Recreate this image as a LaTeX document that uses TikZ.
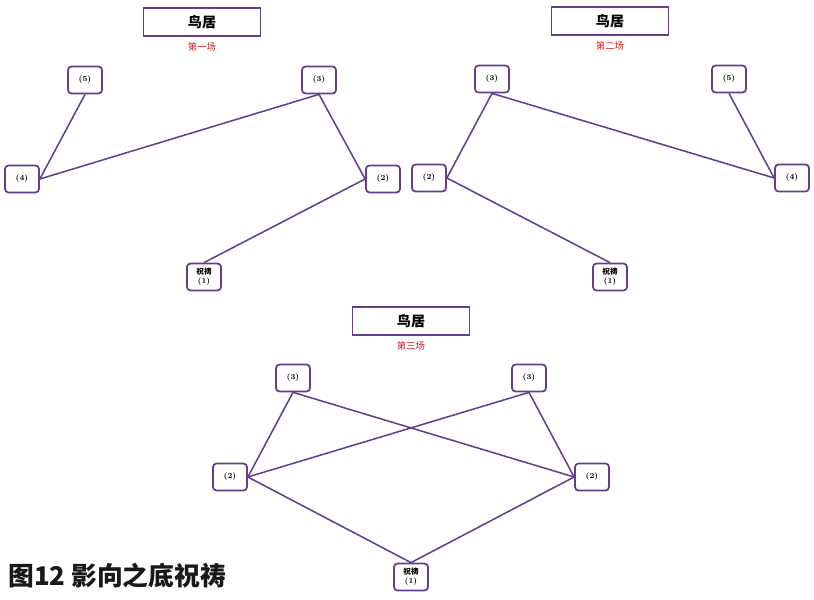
\documentclass[tikz,border=0pt]{standalone}
\usepackage{fontspec}
\newfontfamily\cjk{Noto Sans CJK SC}
\definecolor{toriipurple}{RGB}{98, 62, 142}
\definecolor{scenered}{RGB}{210, 25, 25}
\definecolor{captionink}{RGB}{25, 25, 25}
\usetikzlibrary{positioning}

\tikzset{
  rolebox/.style={draw=toriipurple, line width=1.5pt, rounded corners=3pt, fill=white, minimum width=1.02cm, minimum height=0.81cm, inner sep=1pt, align=center, font=\bfseries\fontsize{6.5}{7.5}\selectfont},
  titlebox/.style={draw=toriipurple, line width=1.4pt, fill=white, minimum width=3.52cm, minimum height=0.84cm, font=\cjk\bfseries\fontsize{12}{14}\selectfont},
  scenelabel/.style={text=scenered, inner sep=1pt, font=\cjk\fontsize{8}{10}\selectfont},
  link/.style={draw=toriipurple, line width=1.3pt},
}

\begin{document}
\begin{tikzpicture}[x=0.03cm, y=-0.03cm]
  \useasboundingbox (0,0) rectangle (814,600);

  % Scene one
  \node[titlebox] (t1) at (202,22) {鸟居};
  \node[scenelabel, below=0.12cm of t1] (s1) {第一场};
  \node[rolebox] (a5) at (85,80) {(5)};
  \node[rolebox] (a3) at (319,80) {(3)};
  \node[rolebox] (a4) at (22,179) {(4)};
  \node[rolebox] (a2) at (383,179) {(2)};
  \node[rolebox] (a1) at (204,277) {{\cjk 祝祷}\\(1)};
  \draw[link] (a5.south) -- (a4.east);
  \draw[link] (a3.south) -- (a4.east);
  \draw[link] (a3.south) -- (a2.west);
  \draw[link] (a2.west) -- (a1.north);

  % Scene two
  \node[titlebox] (t2) at (610,21) {鸟居};
  \node[scenelabel, below=0.12cm of t2] (s2) {第二场};
  \node[rolebox] (b3) at (492,79) {(3)};
  \node[rolebox] (b5) at (729,79) {(5)};
  \node[rolebox] (b2) at (429,178) {(2)};
  \node[rolebox] (b4) at (792,178) {(4)};
  \node[rolebox] (b1) at (610,277) {{\cjk 祝祷}\\(1)};
  \draw[link] (b3.south) -- (b2.east);
  \draw[link] (b3.south) -- (b4.west);
  \draw[link] (b5.south) -- (b4.west);
  \draw[link] (b2.east) -- (b1.north);

  % Scene three
  \node[titlebox] (t3) at (411,321) {鸟居};
  \node[scenelabel, below=0.12cm of t3] (s3) {第三场};
  \node[rolebox] (c3l) at (293,378) {(3)};
  \node[rolebox] (c3r) at (529,378) {(3)};
  \node[rolebox] (c2l) at (230,477) {(2)};
  \node[rolebox] (c2r) at (592,477) {(2)};
  \node[rolebox] (c1) at (411,577) {{\cjk 祝祷}\\(1)};
  \draw[link] (c3l.south) -- (c2l.east);
  \draw[link] (c3l.south) -- (c2r.west);
  \draw[link] (c3r.south) -- (c2l.east);
  \draw[link] (c3r.south) -- (c2r.west);
  \draw[link] (c2l.east) -- (c1.north);
  \draw[link] (c2r.west) -- (c1.north);

  % Caption
  \node[anchor=west, inner sep=0pt, text=captionink, font=\cjk\bfseries\fontsize{22}{24}\selectfont] (caption) at (8,576) {图12 影向之底祝祷};
\end{tikzpicture}
\end{document}
